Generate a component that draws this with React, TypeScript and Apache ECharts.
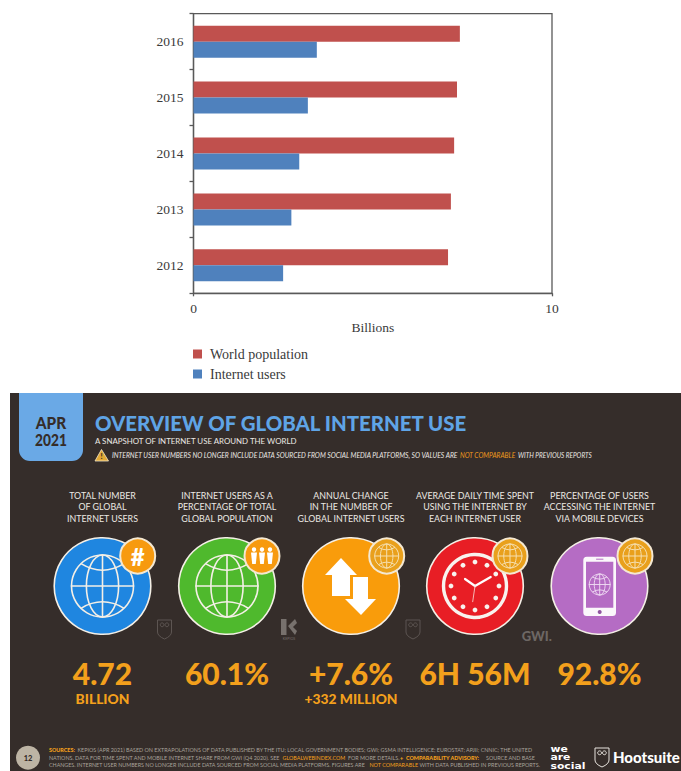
import React, { useEffect, useRef } from "react";
import * as echarts from "echarts";

// Bar chart data, in billions
const years = ["2012", "2013", "2014", "2015", "2016"];
const worldPopulation = [7.1, 7.18, 7.27, 7.35, 7.43];
const internetUsers = [2.5, 2.73, 2.95, 3.19, 3.44];

// Overview panel texts
const headline = "OVERVIEW OF GLOBAL INTERNET USE";
const subhead = "A SNAPSHOT OF INTERNET USE AROUND THE WORLD";
const columnHeads = [
  ["TOTAL NUMBER", "OF GLOBAL", "INTERNET USERS"],
  ["INTERNET USERS AS A", "PERCENTAGE OF TOTAL", "GLOBAL POPULATION"],
  ["ANNUAL CHANGE", "IN THE NUMBER OF", "GLOBAL INTERNET USERS"],
  ["AVERAGE DAILY TIME SPENT", "USING THE INTERNET BY", "EACH INTERNET USER"],
  ["PERCENTAGE OF USERS", "ACCESSING THE INTERNET", "VIA MOBILE DEVICES"],
];
const headlineValues = ["4.72", "60.1%", "+7.6%", "6H 56M", "92.8%"];
const subValues = ["BILLION", "", "+332 MILLION", "", ""];
const columnCentres = [102.5, 227, 351, 475, 599.5];

const PANEL = "#352d2a";
const ORANGE = "#f3a01c";
const PALE = "#ece9e4";
const HEAD_FONT = "Lato";

const txt = (x: number, y: number, text: string, o: any = {}) => ({
  type: "text",
  silent: true,
  x,
  y,
  scaleX: o.scaleX ?? 1,
  style: {
    text,
    fontFamily: o.family ?? HEAD_FONT,
    fontSize: o.size ?? 10,
    fontWeight: o.weight ?? "normal",
    fontStyle: o.italic ? "italic" : "normal",
    fill: o.color ?? PALE,
    align: o.align ?? "center",
    verticalAlign: "middle",
  },
});

const line = (x1: number, y1: number, x2: number, y2: number, color: string, w: number) => ({
  type: "line",
  silent: true,
  shape: { x1, y1, x2, y2 },
  style: { stroke: color, lineWidth: w, lineCap: "round" },
});

const disc = (cx: number, cy: number, r: number, fill: string, stroke?: string, w = 0) => ({
  type: "circle",
  silent: true,
  shape: { cx, cy, r },
  style: { fill, stroke: stroke ?? "none", lineWidth: w },
});

// Wire globe: outline, two meridian ellipses, axis, equator and two curved parallels
const globe = (cx: number, cy: number, r: number, color: string, w: number) => {
  const stroke = { fill: "none", stroke: color, lineWidth: w };
  const lat = (dy: number, bend: number) => {
    const half = Math.sqrt(r * r - dy * dy);
    return {
      type: "bezierCurve",
      silent: true,
      shape: {
        x1: cx - half,
        y1: cy + dy,
        x2: cx + half,
        y2: cy + dy,
        cpx1: cx,
        cpy1: cy + dy + bend,
      },
      style: { ...stroke },
    };
  };
  return [
    { type: "circle", silent: true, shape: { cx, cy, r }, style: { ...stroke } },
    { type: "ellipse", silent: true, shape: { cx, cy, rx: r * 0.52, ry: r }, style: { ...stroke } },
    line(cx, cy - r, cx, cy + r, color, w),
    line(cx - r, cy, cx + r, cy, color, w),
    lat(-r * 0.72, r * 0.42),
    lat(r * 0.72, -r * 0.42),
  ];
};

const badge = (cx: number, cy: number) => [
  disc(cx, cy, 17.5, "#e9a01c", "#f4e8d2", 2),
  ...globe(cx, cy, 12, "#f6dfae", 1),
];

const owl = (x: number, y: number, color: string, w: number) => ({
  type: "group",
  silent: true,
  x,
  y,
  children: [
    { type: "owlShield", silent: true, style: { fill: "none", stroke: color, lineWidth: w } },
    disc(4.6, 5.8, 1.9, "none", color, 1),
    disc(9.4, 5.8, 1.9, "none", color, 1),
  ],
});

function buildPanel() {
  const cy = 586;
  const R = 48.3;
  const ring = "#f4efe6";
  const els: any[] = [
    { type: "rect", silent: true, shape: { x: 10, y: 393, width: 671, height: 378 }, style: { fill: PANEL } },
    {
      type: "rect",
      silent: true,
      shape: { x: 19, y: 393, width: 64, height: 68, r: [0, 0, 11, 11] },
      style: { fill: "#6aa9e6" },
    },
    txt(51, 422, "APR", { size: 16.5, weight: 900, color: PANEL, scaleX: 0.93 }),
    txt(51, 439, "2021", { size: 16.5, weight: 900, color: PANEL, scaleX: 0.83 }),
    txt(95, 423, headline, { size: 20.4, weight: 900, color: "#5fa4e6", align: "left" }),
    txt(95, 441, subhead, { size: 7.9, align: "left" }),
    {
      type: "polygon",
      silent: true,
      shape: { points: [[101.5, 449.5], [108.5, 461], [95, 461]] },
      style: { fill: "#e3a935", stroke: "#f3e6c6", lineWidth: 0.8 },
    },
    txt(101.7, 456.5, "!", { size: 7.5, weight: 900, color: PANEL }),
    txt(112, 455, "INTERNET USER NUMBERS NO LONGER INCLUDE DATA SOURCED FROM SOCIAL MEDIA PLATFORMS, SO VALUES ARE", {
      size: 6.75,
      italic: true,
      align: "left",
    }),
    txt(460, 455, "NOT COMPARABLE", { size: 6.75, italic: true, color: "#ee9a1e", align: "left", scaleX: 0.98 }),
    txt(518, 455, "WITH PREVIOUS REPORTS", { size: 6.75, italic: true, align: "left", scaleX: 0.95 }),
  ];

  columnHeads.forEach((rows, c) =>
    rows.forEach((row, i) => els.push(txt(columnCentres[c], 495 + i * 11.6, row, { size: 8.85 })))
  );

  // Round icons
  const [c1, c2, c3, c4, c5] = columnCentres;
  els.push(disc(c1, cy, R, "#1f86e0", ring, 1.6), ...globe(c1, cy, 31, ring, 1.6));
  els.push(disc(c2, cy, R, "#4fb92d", ring, 1.6), ...globe(c2, cy, 31, ring, 1.6));

  // Hash badge
  els.push(disc(137.7, 556, 17.5, "#f79a0f", "#f4e8d2", 2), txt(137.7, 556.5, "#", { size: 24, weight: 900, color: "#fff" }));

  // Three-person badge
  els.push(disc(262, 556, 17.5, "#f79a0f", "#f4e8d2", 2));
  [254, 262, 270].forEach((x) => {
    els.push(disc(x, 549.5, 2.2, "#fff"));
    els.push({
      type: "polygon",
      silent: true,
      shape: { points: [[x - 3, 552.5], [x + 3, 552.5], [x + 1.8, 564], [x - 1.8, 564]] },
      style: { fill: "#fff" },
    });
  });

  // Change arrows
  els.push(disc(c3, cy, R, "#f99c0b", ring, 1.6));
  els.push({
    type: "polygon",
    silent: true,
    shape: { points: [[341, 558], [357, 575], [350, 575], [350, 596], [332, 596], [332, 575], [325, 575]] },
    style: { fill: "#fff" },
  });
  els.push({
    type: "polygon",
    silent: true,
    shape: { points: [[353, 577], [368, 577], [368, 599], [376, 599], [361, 615], [345, 599], [353, 599]] },
    style: { fill: "#fff" },
  });
  els.push(...badge(386.7, 556));

  // Clock face
  els.push(disc(c4, cy, R, "#e81e25", ring, 1.6));
  els.push(disc(c4, cy, 31.5, "#e81e25", "#f8f3ee", 3.4));
  for (let h = 0; h < 12; h++) {
    const a = (h * Math.PI) / 6;
    els.push(disc(c4 + 24 * Math.sin(a), cy - 24 * Math.cos(a), 2.4, "#f8f3ee"));
  }
  els.push(line(c4, cy, 465, 579, "#fff", 2.2));
  els.push(line(c4, cy, 490.7, 577, "#fff", 2.2));
  els.push(line(c4, cy, 472.7, 601.7, "#f6c9c4", 0.9));
  els.push(...badge(510, 556));

  // Phone
  els.push(disc(c5, cy, R, "#b56cc4", ring, 1.6));
  els.push({
    type: "rect",
    silent: true,
    shape: { x: 583.3, y: 556.7, width: 32.7, height: 59.3, r: 3.5 },
    style: { fill: "#fbf7fb" },
  });
  els.push({
    type: "rect",
    silent: true,
    shape: { x: 586, y: 561.7, width: 27.3, height: 46 },
    style: { fill: "#b56cc4" },
  });
  els.push(line(596.5, 559.2, 603, 559.2, "#b56cc4", 1));
  els.push(disc(599.7, 612, 2, "#8f55a0"));
  els.push(...globe(599.7, 584.5, 10.5, "#f1def4", 0.9));
  els.push(...badge(635, 556));

  // Source marks between the icons
  els.push(owl(157.5, 619, "#5d5552", 1));
  els.push(owl(406, 619, "#5d5552", 1));
  els.push({
    type: "polygon",
    silent: true,
    shape: { points: [[281, 619], [286.5, 619], [286.5, 635], [281, 635]] },
    style: { fill: "#77716d" },
  });
  els.push({
    type: "polygon",
    silent: true,
    shape: { points: [[288, 626], [295, 619], [297, 623], [293, 627], [297, 631], [295, 635]] },
    style: { fill: "#77716d" },
  });
  els.push(txt(289, 638.5, "KEPIOS", { size: 3.6, color: "#77716d" }));
  els.push(txt(536.7, 635.7, "GWI.", { size: 13, weight: 900, color: "#6d6764" }));

  // Headline figures
  headlineValues.forEach((v, c) => els.push(txt(columnCentres[c], 672.5, v, { size: 30, weight: 900, color: ORANGE })));
  subValues.forEach((v, c) => {
    if (v) els.push(txt(columnCentres[c], 698.5, v, { size: 13.8, weight: 900, color: ORANGE }));
  });

  // Footer
  const fine = "#a8a29a";
  const fz = 5.4;
  els.push(disc(28, 757.7, 12, "#bdb4a4"));
  els.push(txt(28, 758, "12", { size: 7.5, weight: 900, color: PANEL }));
  els.push(txt(49, 750, "SOURCES:", { size: fz, weight: 900, color: ORANGE, align: "left" }));
  els.push(
    txt(77.5, 750, "KEPIOS (APR 2021) BASED ON EXTRAPOLATIONS OF DATA PUBLISHED BY THE ITU; LOCAL GOVERNMENT BODIES; GWI; GSMA INTELLIGENCE; EUROSTAT; APJII; CNNIC; THE UNITED", { size: fz, color: fine, align: "left" })
  );
  els.push(txt(49, 757.5, "NATIONS. DATA FOR TIME SPENT AND MOBILE INTERNET SHARE FROM GWI (Q4 2020). SEE", { size: fz, color: fine, align: "left" }));
  els.push(txt(282.5, 757.5, "GLOBALWEBINDEX.COM", { size: fz, color: ORANGE, align: "left" }));
  els.push(txt(348, 757.5, "FOR MORE DETAILS.", { size: fz, color: fine, align: "left" }));
  els.push(txt(400, 757.5, "+", { size: fz, weight: 900, color: ORANGE, align: "left" }));
  els.push(txt(406, 757.5, "COMPARABILITY ADVISORY:", { size: fz, weight: 900, color: ORANGE, align: "left" }));
  els.push(txt(486, 757.5, "SOURCE AND BASE", { size: fz, color: fine, align: "left" }));
  els.push(txt(49, 764.5, "CHANGES. INTERNET USER NUMBERS NO LONGER INCLUDE DATA SOURCED FROM SOCIAL MEDIA PLATFORMS. FIGURES ARE", { size: 5.35, color: fine, align: "left" }));
  els.push(txt(369.5, 764.5, "NOT COMPARABLE", { size: fz, color: ORANGE, align: "left" }));
  els.push(txt(419.5, 764.5, "WITH DATA PUBLISHED IN PREVIOUS REPORTS.", { size: fz, color: fine, align: "left" }));

  // Partner logos
  ["we", "are", "social"].forEach((w, i) =>
    els.push(txt(550.5, 749 + i * 8.3, w, { size: 8.3, weight: 900, color: "#fff", align: "left", family: "DejaVu Sans", scaleX: 1.3 }))
  );
  els.push(owl(595, 747, "#e8e4de", 1));
  els.push(txt(613, 756.7, "Hootsuite", { size: 15, weight: 900, color: "#fff", align: "left" }));

  return els;
}

export default function App() {
  const ref = useRef<HTMLDivElement>(null);

  useEffect(() => {
    document.body.style.margin = "0";
    echarts.graphic.registerShape(
      "owlShield",
      echarts.graphic.extendPath("M0 1 L14 1 L14 13 Q14 17 7 20 Q0 17 0 13 Z", {})
    );
    const chart = echarts.init(ref.current!, null, { renderer: "svg" });
    const serif = "'Liberation Serif'";
    const ink = "#3a3a3a";
    chart.setOption({
      animation: false,
      backgroundColor: "#fff",
      grid: {
        left: 193.5,
        top: 13.7,
        width: 358.5,
        height: 279.6,
        show: true,
        borderColor: "#595959",
        borderWidth: 1.3,
      },
      xAxis: {
        type: "value",
        min: 0,
        max: 10,
        interval: 10,
        name: "Billions",
        nameLocation: "middle",
        nameGap: 27,
        nameTextStyle: { fontFamily: serif, fontSize: 13.5, color: ink },
        axisLine: { show: true, lineStyle: { color: "#595959", width: 1.3 } },
        axisTick: { show: true, length: 3, lineStyle: { color: "#595959", width: 1.3 } },
        axisLabel: { fontFamily: serif, fontSize: 13.5, color: ink, margin: 8 },
        splitLine: { show: false },
      },
      yAxis: {
        type: "category",
        data: years,
        axisLine: { show: true, lineStyle: { color: "#595959", width: 1.3 } },
        axisTick: { show: true, length: 4, lineStyle: { color: "#595959", width: 1.3 } },
        axisLabel: { fontFamily: serif, fontSize: 13.5, color: ink, margin: 10 },
      },
      legend: {
        orient: "vertical",
        left: 188,
        top: 342,
        itemWidth: 9,
        itemHeight: 9,
        itemGap: 6,
        icon: "rect",
        data: ["World population", "Internet users"],
        textStyle: { fontFamily: serif, fontSize: 14, color: ink, padding: [0, 0, 0, 3] },
      },
      series: [
        { name: "World population", type: "bar", data: worldPopulation, barWidth: 16, barGap: 0, itemStyle: { color: "#c0504d" } },
        { name: "Internet users", type: "bar", data: internetUsers, barWidth: 16, barGap: 0, itemStyle: { color: "#4f81bd" } },
      ],
      graphic: { elements: buildPanel() },
    });
    return () => chart.dispose();
  }, []);

  return <div ref={ref} style={{ position: "absolute", left: 0, top: 0, width: 681, height: 771 }} />;
}
